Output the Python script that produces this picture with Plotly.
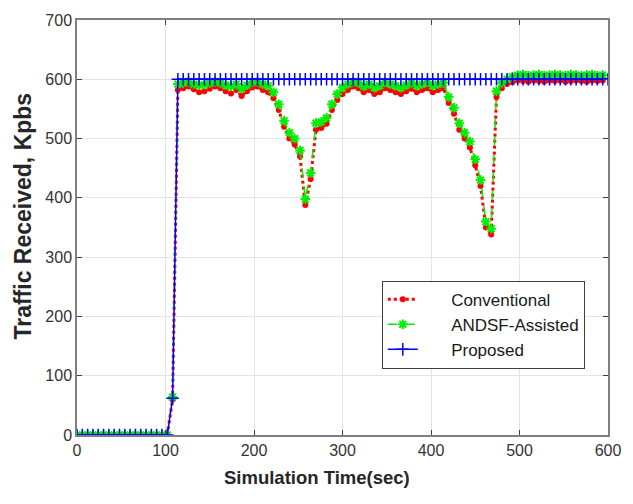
import plotly.graph_objects as go

# time axis (sec), sampled every 6 s
time = list(range(0, 601, 6))

zeros = [0] * 18  # t = 0..102

conventional = zeros + [60,
    582, 585, 588, 583, 578, 580, 584, 588, 585, 580, 576, 582, 572, 580, 586, 588, 582, 578,
    568, 548, 520, 500, 490, 470, 388, 432, 515, 518, 525, 548, 565, 575,
    582, 588, 585, 578, 582, 575, 578, 585, 582, 578, 575, 580, 584, 578, 582, 585, 578, 582, 585,
    560, 542, 515, 500, 485, 455, 420, 350, 338, 570, 585, 592, 595,
    598, 597, 596, 598, 597, 596, 598, 597, 598, 596, 597, 598, 597, 596, 598, 597, 598]

andsf = zeros + [64,
    592, 594, 596, 592, 590, 591, 594, 596, 594, 590, 588, 592, 584, 590, 595, 596, 592, 589,
    578, 558, 530, 510, 500, 480, 398, 442, 526, 528, 535, 558, 575, 586,
    592, 596, 594, 588, 592, 586, 589, 595, 592, 589, 586, 590, 594, 589, 592, 595, 589, 592, 594,
    570, 552, 526, 510, 495, 465, 430, 360, 348, 580, 594, 600, 604,
    607, 608, 606, 607, 608, 606, 607, 608, 607, 606, 608, 607, 606, 607, 608, 606, 607]

proposed = zeros + [62] + [600] * 82

series_names = ["Conventional", "ANDSF-Assisted", "Proposed"]
x_title = "Simulation Time(sec)"
y_title = "Traffic Received, Kpbs"

REG = "Liberation Sans, Arial"
PAD = "\u00a0" * 6  # widen the legend sample area like the original

fig = go.Figure()

fig.add_trace(go.Scatter(
    x=time, y=conventional, name=PAD + series_names[0], mode="lines+markers",
    line=dict(color="#ff0000", width=3, dash="dot"),
    marker=dict(symbol="circle", size=6, color="#ff0000"), legendgroup="a"))

fig.add_trace(go.Scatter(
    x=time, y=andsf, name=PAD + series_names[1], mode="lines+markers",
    line=dict(color="#00ee00", width=1.5, dash="dash"),
    marker=dict(symbol="asterisk-open", size=8, color="#00ee00",
                line=dict(color="#00ee00", width=2)), legendgroup="b"))

fig.add_trace(go.Scatter(
    x=time, y=proposed, name=PAD + series_names[2], mode="lines+markers",
    line=dict(color="#0000ff", width=1.5),
    marker=dict(symbol="cross-thin-open", size=9, color="#0000ff",
                line=dict(color="#0000ff", width=1.5)), legendgroup="c"))

axis_common = dict(
    showgrid=True, gridcolor="#e3e3e3", gridwidth=1,
    showline=True, linecolor="#808080", linewidth=1.5, mirror="ticks",
    ticks="inside", ticklen=5, tickcolor="#404040",
    tickfont=dict(family=REG, size=16, color="#333333"),
    zeroline=False,
)

fig.update_xaxes(range=[0, 600], dtick=100, **axis_common)
fig.update_yaxes(range=[0, 700], dtick=100, **axis_common)

fig.add_annotation(text="<b>" + x_title + "</b>", xref="paper", yref="paper",
                   x=0.452, y=-0.1026, xanchor="center", yanchor="middle", showarrow=False,
                   font=dict(family=REG, size=18.5, color="#262626"))
fig.add_annotation(text="<b>" + y_title + "</b>", xref="paper", yref="paper",
                   x=-0.1008, y=0.5275, xanchor="center", yanchor="middle", showarrow=False,
                   textangle=-90,
                   font=dict(family=REG, size=23, color="#262626"))

fig.update_layout(
    width=633, height=504,
    margin=dict(l=77, r=25, t=16, b=69),
    plot_bgcolor="white", paper_bgcolor="white",
    showlegend=True,
    legend=dict(x=0.574, y=0.372, xanchor="left", yanchor="top",
                bgcolor="white", bordercolor="#404040", borderwidth=1,
                font=dict(family=REG, size=17, color="#1a1a1a"),
                tracegroupgap=0),
)

fig.write_html("out.html")
